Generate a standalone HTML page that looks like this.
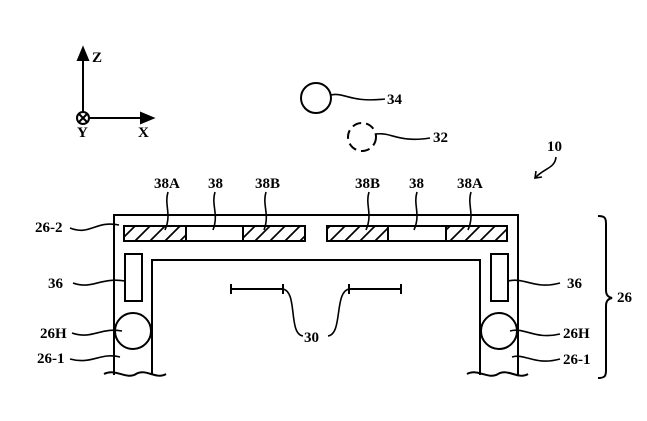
<!DOCTYPE html>
<html><head><meta charset="utf-8"><style>
html,body{margin:0;padding:0;background:#fff;width:647px;height:421px;overflow:hidden}
text{font-family:"Liberation Serif",serif;font-size:15px;font-weight:bold;fill:#000}
</style></head><body>
<svg width="647" height="421" viewBox="0 0 647 421" xmlns="http://www.w3.org/2000/svg">
<defs>
<pattern id="h" patternUnits="userSpaceOnUse" width="15" height="15" patternTransform="translate(0,226)">
<line x1="0" y1="15" x2="15" y2="0" stroke="#000" stroke-width="1.7"/>
<line x1="-3" y1="3" x2="3" y2="-3" stroke="#000" stroke-width="1.7"/>
<line x1="12" y1="18" x2="18" y2="12" stroke="#000" stroke-width="1.7"/>
</pattern>
</defs>
<g fill="none" stroke="#000" stroke-width="2">
<line x1="83" y1="112" x2="83" y2="58"/>
<polygon points="83,48 78,60 88,60" fill="#000"/>
<line x1="89" y1="118" x2="143" y2="118"/>
<polygon points="153,118 141,113 141,123" fill="#000"/>
<circle cx="83" cy="118" r="6"/>
<line x1="79" y1="114" x2="87" y2="122"/><line x1="87" y1="114" x2="79" y2="122"/>
<circle cx="316" cy="98" r="15"/>
<path d="M331 95 C345 92 350 103 385 99" stroke-width="1.6"/>
<circle cx="362" cy="137" r="14" stroke-dasharray="9,5"/>
<path d="M376 134 C392 132 398 143 430 138" stroke-width="1.6"/>
<path d="M556 157 C555 168 545 168 536 177" stroke-width="1.6"/>
<polyline points="536,171 535,178 542,177" stroke-width="1.6"/>
<path d="M114 375 V215 H518 V375"/>
<path d="M152 375 V260 H480 V375"/>
<path d="M104 374 C116 368 126 380 136 374 C146 368 156 380 166 374"/>
<path d="M467 374 C478 368 488 380 498 374 C508 368 518 380 528 374"/>
<rect x="124" y="226" width="62" height="15" fill="url(#h)"/>
<rect x="186" y="226" width="57" height="15"/>
<rect x="243" y="226" width="62" height="15" fill="url(#h)"/>
<rect x="327" y="226" width="61" height="15" fill="url(#h)"/>
<rect x="388" y="226" width="58" height="15"/>
<rect x="446" y="226" width="61" height="15" fill="url(#h)"/>
<rect x="125" y="254" width="17" height="47"/>
<rect x="491" y="254" width="17" height="47"/>
<circle cx="133" cy="331" r="18"/>
<circle cx="499" cy="331" r="18"/>
<line x1="231" y1="289" x2="283" y2="289"/><line x1="231" y1="284" x2="231" y2="294"/><line x1="283" y1="284" x2="283" y2="294"/>
<line x1="349" y1="289" x2="401" y2="289"/><line x1="349" y1="284" x2="349" y2="294"/><line x1="401" y1="284" x2="401" y2="294"/>
<g stroke-width="1.6">
<path d="M283 289 C298 292 288 334 303 336"/>
<path d="M349 289 C334 292 343 334 328 336"/>
<path d="M168 192 C164 205 172 214 165 230"/>
<path d="M215 192 C211 205 219 214 213 230"/>
<path d="M266 192 C262 205 270 214 264 230"/>
<path d="M369 192 C365 205 373 214 366 230"/>
<path d="M417 192 C413 205 421 214 414 230"/>
<path d="M471 192 C467 205 475 214 468 230"/>
<path d="M70 228 C90 236 96 220 119 225"/>
<path d="M73 283 C92 290 100 277 125 281"/>
<path d="M72 333 C92 340 100 327 122 331"/>
<path d="M70 359 C92 365 100 352 120 357"/>
<path d="M508 281 C525 277 535 290 560 283"/>
<path d="M510 331 C525 327 535 340 560 334"/>
<path d="M512 357 C525 353 535 366 560 359"/>
</g>
<path d="M598 216 C605 216 606 218 606 224 V290 C606 295 608 297 612 298 C608 299 606 301 606 306 V370 C606 376 605 378 598 378"/>
</g>
<text x="92" y="62">Z</text>
<text x="77" y="137">Y</text>
<text x="138" y="137">X</text>
<text x="387" y="104">34</text>
<text x="433" y="142">32</text>
<text x="547" y="151">10</text>
<text x="154" y="188">38A</text>
<text x="208" y="188">38</text>
<text x="255" y="188">38B</text>
<text x="355" y="188">38B</text>
<text x="409" y="188">38</text>
<text x="457" y="188">38A</text>
<text x="35" y="232">26-2</text>
<text x="48" y="288">36</text>
<text x="40" y="338">26H</text>
<text x="37" y="363">26-1</text>
<text x="567" y="288">36</text>
<text x="563" y="338">26H</text>
<text x="563" y="364">26-1</text>
<text x="617" y="302">26</text>
<text x="304" y="342">30</text>
</svg>
</body></html>
